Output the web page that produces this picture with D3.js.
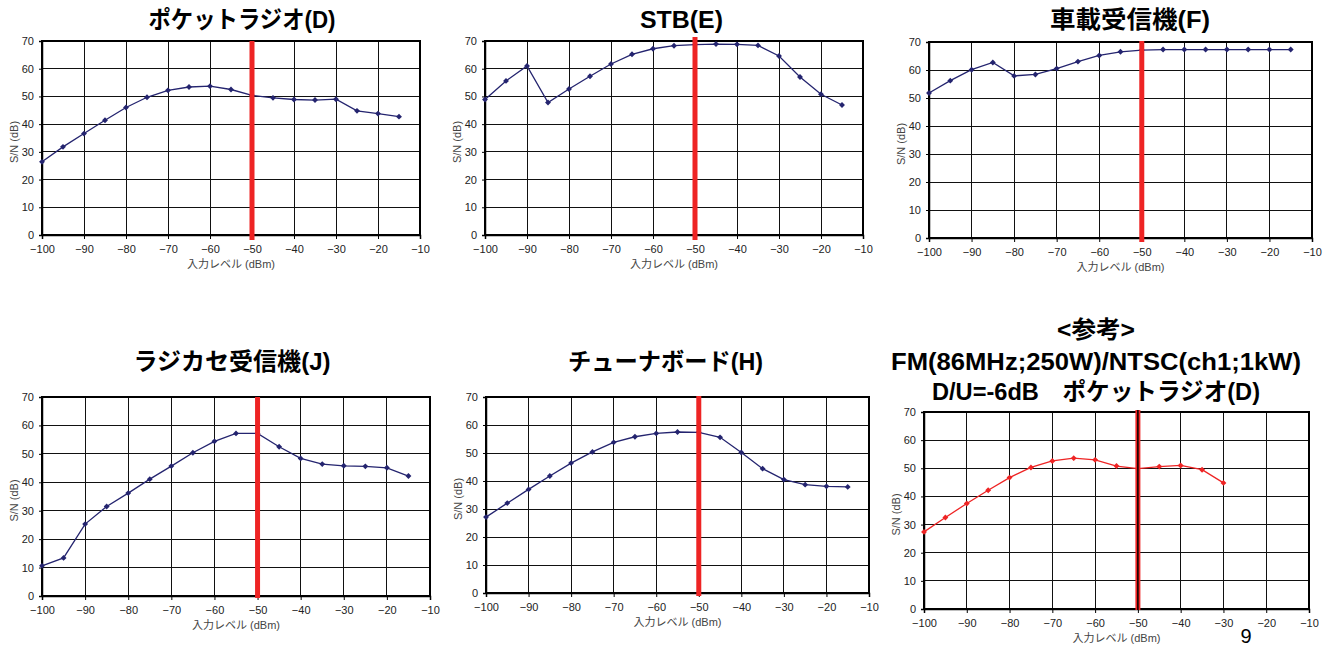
<!DOCTYPE html>
<html><head><meta charset="utf-8">
<script src="https://cdn.jsdelivr.net/npm/d3@7"></script>
<style>body{margin:0;background:#fff}svg{display:block}</style>
</head><body><svg id="c" width="1334" height="649"></svg>
<script>
// ---- data ----
const levels = [-100,-95,-90,-85,-80,-75,-70,-65,-60,-55,-50,-45,-40,-35,-30,-25,-20,-15];
const snPocketRadioD = [26.4,31.8,36.6,41.4,46.0,49.7,52.2,53.4,53.7,52.5,50.4,49.5,48.9,48.7,49.0,44.8,43.8,42.7];
const snStbE        = [48.9,55.6,61.0,47.8,52.7,57.3,61.7,65.2,67.2,68.3,68.7,68.9,68.8,68.4,64.6,57.0,50.8,46.9];
const snCarF        = [51.8,56.2,60.1,62.7,57.9,58.4,60.5,63.0,65.2,66.5,67.1,67.3,67.3,67.3,67.3,67.3,67.3,67.3];
const snRadioCassJ  = [10.6,13.4,25.3,31.5,36.2,41.1,45.7,50.4,54.4,57.2,57.2,52.5,48.4,46.4,45.8,45.6,45.1,42.2];
const snTunerH      = [27.1,32.1,37.0,41.8,46.4,50.4,53.8,55.8,57.0,57.5,57.4,55.6,50.2,44.4,40.5,38.7,38.1,37.9];
const refLevels     = [-100,-95,-90,-85,-80,-75,-70,-65,-60,-55,-50,-45,-40,-35,-30];
const snRefD        = [27.4,32.5,37.5,42.2,46.7,50.3,52.6,53.6,53.0,50.8,49.9,50.6,51.0,49.5,44.8];
const thresholdLevel = -50;
const xTickValues = [-100,-90,-80,-70,-60,-50,-40,-30,-20,-10];
const yTickValues = [0,10,20,30,40,50,60,70];
const xAxisLabel = "入力レベル (dBm)";
const yAxisLabel = "S/N (dB)";

// ---- layout ----
const FONT = "'Liberation Sans', Arial, 'Noto Sans CJK JP', sans-serif";
const NAVY = "#24246f", RED = "#ee2424";
const panels = [
  {xs: levels, ys: snPocketRadioD, l:42, r:420, t:41, b:235, lineTop:41, lineBot:240, color:NAVY,
   titles:[{text:"ポケットラジオ(D)", cx:242, y:28, w:187}]},
  {xs: levels, ys: snStbE, l:485, r:863, t:41, b:235, lineTop:37, lineBot:240, color:NAVY,
   titles:[{text:"STB(E)", cx:681.5, y:27.5, w:83}]},
  {xs: levels, ys: snCarF, l:929, r:1312, t:42, b:238, lineTop:41, lineBot:242, color:NAVY,
   titles:[{text:"車載受信機(F)", cx:1130, y:28, w:160}]},
  {xs: levels, ys: snRadioCassJ, l:42, r:430, t:397, b:596, lineTop:397, lineBot:598, color:NAVY,
   titles:[{text:"ラジカセ受信機(J)", cx:232, y:370, w:197}]},
  {xs: levels, ys: snTunerH, l:486, r:869, t:397, b:593, lineTop:396, lineBot:596, color:NAVY,
   titles:[{text:"チューナボード(H)", cx:665.5, y:370, w:195}]},
  {xs: refLevels, ys: snRefD, l:924, r:1309, t:412, b:609, lineTop:410, lineBot:610, color:RED, blackCore:true,
   titles:[{text:"<参考>", cx:1096, y:338, w:78},
           {text:"FM(86MHz;250W)/NTSC(ch1;1kW)", cx:1096, y:370, w:410},
           {text:"D/U=-6dB　ポケットラジオ(D)", cx:1096, y:400, w:328}]}
];

const svg = d3.select("#c");
svg.append("rect").attr("width",1334).attr("height",649).attr("fill","#fff");

panels.forEach(p => {
  const x = d3.scaleLinear().domain([-100,-10]).range([p.l, p.r]);
  const y = d3.scaleLinear().domain([0,70]).range([p.b, p.t]);
  const g = svg.append("g");

  // titles
  p.titles.forEach(tt => {
    g.append("text").attr("x", tt.cx).attr("y", tt.y)
      .attr("text-anchor","middle").attr("font-family",FONT).attr("font-weight","bold")
      .attr("font-size",24).attr("fill","#000")
      .attr("textLength", tt.w).attr("lengthAdjust","spacingAndGlyphs")
      .text(tt.text);
  });

  // gridlines
  const grid = g.append("g").attr("shape-rendering","crispEdges");
  grid.selectAll("line.h").data(yTickValues).join("line")
    .attr("x1", p.l).attr("x2", p.r).attr("y1", d=>y(d)).attr("y2", d=>y(d))
    .attr("stroke","#111").attr("stroke-width",1);
  grid.selectAll("line.v").data(xTickValues).join("line")
    .attr("x1", d=>x(d)).attr("x2", d=>x(d)).attr("y1", p.t).attr("y2", p.b)
    .attr("stroke","#111").attr("stroke-width",1);
  grid.append("rect").attr("x",p.l).attr("y",p.t).attr("width",p.r-p.l).attr("height",p.b-p.t)
    .attr("fill","none").attr("stroke","#000").attr("stroke-width",1.3);

  // axes
  const xa = g.append("g").attr("transform",`translate(0,${p.b})`)
    .call(d3.axisBottom(x).tickValues(xTickValues).tickSize(4).tickPadding(6));
  const ya = g.append("g").attr("transform",`translate(${p.l},0)`)
    .call(d3.axisLeft(y).tickValues(yTickValues).tickSize(3).tickPadding(5));
  [xa, ya].forEach(a => {
    a.select(".domain").attr("stroke","#000").attr("stroke-width",1.5);
    a.selectAll(".tick line").attr("stroke","#000");
    a.selectAll("text").attr("font-family",FONT).attr("font-size",11).attr("fill","#222");
  });

  // axis labels
  g.append("text").attr("x",(p.l+p.r)/2).attr("y",p.b+33).attr("text-anchor","middle")
    .attr("font-family",FONT).attr("font-size",11).attr("fill","#444").text(xAxisLabel);
  g.append("text").attr("transform",`translate(${p.l-24},${(p.t+p.b)/2+4}) rotate(-90)`)
    .attr("text-anchor","middle").attr("font-family",FONT).attr("font-size",11).attr("fill","#444")
    .text(yAxisLabel);

  // series
  const pts = p.xs.map((v,i)=>[v,p.ys[i]]);
  g.append("path").datum(pts)
    .attr("d", d3.line().x(d=>x(d[0])).y(d=>y(d[1])))
    .attr("fill","none").attr("stroke",p.color).attr("stroke-width",1.3);
  g.selectAll("path.m").data(pts).join("path")
    .attr("d", d3.symbol().type(d3.symbolDiamond2).size(22))
    .attr("transform", d=>`translate(${x(d[0])},${y(d[1])})`)
    .attr("fill",p.color);

  // threshold marker line
  const tx = x(thresholdLevel);
  g.append("line").attr("x1",tx).attr("x2",tx).attr("y1",p.lineTop).attr("y2",p.lineBot)
    .attr("stroke",RED).attr("stroke-width",5);
  if (p.blackCore) {
    g.append("line").attr("x1",tx).attr("x2",tx).attr("y1",p.lineTop).attr("y2",p.lineBot)
      .attr("stroke","#000").attr("stroke-width",1.5);
  }
});

// page number
svg.append("text").attr("x",1246).attr("y",643).attr("text-anchor","middle")
  .attr("font-family",FONT).attr("font-size",20).attr("fill","#000").text("9");
</script></body></html>
